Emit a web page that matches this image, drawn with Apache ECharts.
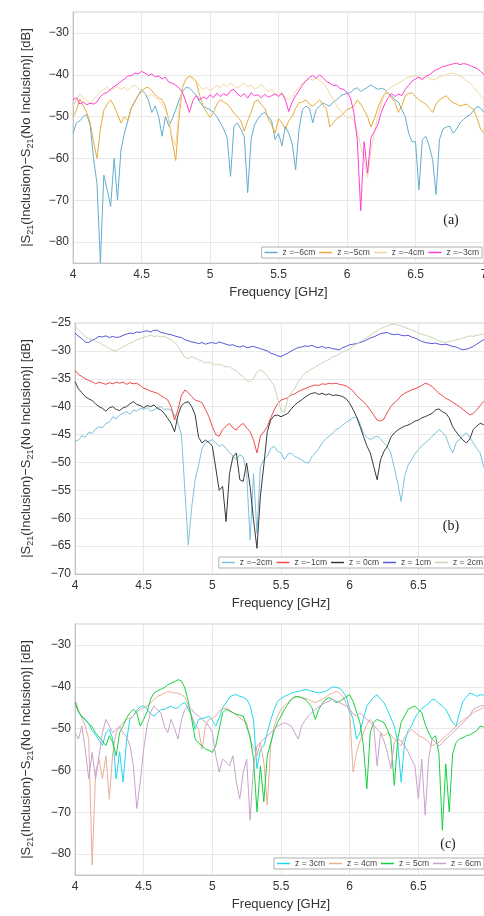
<!DOCTYPE html>
<html><head><meta charset="utf-8">
<script src="https://cdn.jsdelivr.net/npm/echarts@6/dist/echarts.min.js"></script>
<style>html,body{margin:0;padding:0;background:#fff}#c{width:484px;height:916px}</style>
</head><body><div id="c"></div>
<script>
// ---------- data ----------
const freqGHz = [4,4.025,4.05,4.075,4.1,4.125,4.15,4.175,4.2,4.225,4.25,4.275,4.3,4.325,4.35,4.375,4.4,4.425,4.45,4.475,
4.5,4.525,4.55,4.575,4.6,4.625,4.65,4.675,4.7,4.725,4.75,4.775,4.8,4.825,4.85,4.875,4.9,4.925,4.95,4.975,
5,5.025,5.05,5.075,5.1,5.125,5.15,5.175,5.2,5.225,5.25,5.275,5.3,5.325,5.35,5.375,5.4,5.425,5.45,5.475,
5.5,5.525,5.55,5.575,5.6,5.625,5.65,5.675,5.7,5.725,5.75,5.775,5.8,5.825,5.85,5.875,5.9,5.925,5.95,5.975,
6,6.025,6.05,6.075,6.1,6.125,6.15,6.175,6.2,6.225,6.25,6.275,6.3,6.325,6.35,6.375,6.4,6.425,6.45,6.475,
6.5,6.525,6.55,6.575,6.6,6.625,6.65,6.675,6.7,6.725,6.75,6.775,6.8,6.825,6.85,6.875,6.9,6.925,6.95,6.975,7];

const xTicks = [4, 4.5, 5, 5.5, 6, 6.5, 7];
const yTicksA = [-80, -70, -60, -50, -40, -30];
const yTicksB = [-70, -65, -60, -55, -50, -45, -40, -35, -30, -25];
const yTicksC = [-80, -70, -60, -50, -40, -30];

// panel (a)
const namesA = ['z =\u22126cm', 'z =\u22125cm', 'z =\u22124cm', 'z =\u22123cm'];
const zM6 = [-54.0,-51.5,-51.0,-50.0,-49.5,-52.0,-60.0,-66.0,-85.0,-64.0,
 -67.5,-71.5,-60.0,-70.0,-58.0,-54.0,-51.0,-48.0,-46.5,-45.0,
 -43.5,-44.5,-46.0,-49.0,-47.5,-50.0,-54.7,-50.0,-52.3,-50.5,
 -48.3,-46.0,-44.0,-43.0,-43.2,-44.0,-45.0,-46.5,-47.5,-48.0,
 -48.3,-49.0,-50.0,-51.5,-53.0,-55.0,-64.3,-52.3,-51.5,-53.0,
 -54.7,-68.2,-55.5,-52.0,-50.5,-49.5,-49.0,-50.0,-51.0,-55.5,
 -54.0,-57.0,-52.3,-54.0,-56.5,-62.7,-53.0,-48.3,-47.5,-48.0,
 -51.5,-48.3,-47.5,-46.7,-47.2,-47.5,-46.5,-46.0,-45.2,-44.7,
 -44.5,-44.3,-43.5,-43.1,-44.0,-43.5,-43.0,-42.4,-43.0,-43.5,
 -43.2,-43.5,-44.5,-45.0,-46.0,-46.5,-48.3,-50.0,-54.0,-56.0,
 -56.0,-67.5,-55.5,-54.7,-57.0,-60.3,-68.6,-55.5,-53.0,-52.5,
 -52.3,-54.0,-53.0,-51.5,-50.7,-50.0,-49.5,-48.5,-47.5,-48.0,
 -49.0];
const zM5 = [-50.0,-48.5,-45.8,-47.5,-49.0,-51.5,-56.0,-60.0,-53.0,-48.5,
 -47.0,-46.0,-47.5,-49.5,-51.5,-50.0,-51.0,-48.0,-46.5,-45.0,
 -44.0,-43.2,-43.0,-43.8,-44.8,-45.5,-46.0,-47.5,-51.0,-56.0,
 -60.5,-50.0,-43.0,-41.0,-40.4,-40.8,-41.8,-45.0,-47.5,-49.0,
 -50.2,-49.0,-47.0,-46.0,-46.5,-47.0,-48.0,-49.2,-50.0,-51.0,
 -53.5,-51.0,-49.0,-46.5,-46.0,-47.2,-48.0,-50.5,-52.0,-54.0,
 -50.5,-51.5,-53.0,-51.0,-50.0,-48.0,-46.7,-46.5,-46.0,-47.0,
 -47.5,-46.8,-46.0,-47.2,-48.3,-52.5,-51.5,-50.5,-50.0,-49.2,
 -48.3,-48.0,-47.5,-46.0,-47.0,-48.5,-50.0,-52.5,-50.5,-48.0,
 -46.0,-44.5,-44.3,-45.5,-46.5,-49.0,-47.5,-45.0,-44.5,-44.3,
 -45.2,-46.0,-46.5,-47.0,-48.0,-49.0,-47.0,-46.0,-45.5,-45.0,
 -46.0,-46.7,-47.0,-47.5,-47.2,-47.0,-47.8,-48.3,-50.5,-53.0,
 -54.0];
const zM4 = [-47.5,-46.0,-44.5,-45.5,-46.0,-47.0,-46.0,-45.0,-44.0,-43.5,
 -43.0,-43.8,-43.2,-42.8,-43.5,-43.0,-43.8,-43.0,-42.5,-43.2,
 -44.0,-44.5,-45.2,-44.6,-45.5,-46.0,-47.0,-48.5,-51.0,-55.0,
 -57.0,-48.0,-42.5,-40.8,-40.2,-40.6,-41.5,-42.8,-43.5,-43.0,
 -43.8,-43.2,-42.5,-43.0,-42.2,-42.8,-42.0,-42.6,-43.2,-42.5,
 -42.0,-43.0,-42.4,-43.5,-43.0,-42.3,-43.2,-44.0,-43.5,-44.5,
 -45.0,-44.2,-45.5,-46.0,-45.2,-44.0,-43.0,-42.0,-41.5,-41.0,
 -41.3,-40.8,-41.4,-42.0,-43.0,-44.5,-46.0,-47.5,-48.5,-49.5,
 -50.5,-50.0,-51.0,-53.5,-57.0,-60.0,-64.5,-58.0,-54.0,-50.0,
 -47.0,-44.5,-43.5,-43.0,-42.5,-42.0,-41.6,-41.0,-40.6,-40.5,
 -40.2,-40.6,-40.8,-40.4,-40.8,-41.2,-41.0,-40.5,-40.2,-40.0,
 -39.8,-39.6,-40.0,-40.3,-40.8,-41.5,-42.0,-43.0,-44.0,-45.0,
 -46.0];
const zM3 = [-46.0,-45.5,-47.0,-46.5,-47.2,-46.8,-47.0,-46.5,-45.2,-44.5,
 -44.2,-43.5,-42.8,-42.3,-41.6,-41.0,-40.3,-40.2,-39.6,-39.8,
 -39.2,-39.6,-40.2,-39.8,-40.5,-40.3,-41.0,-40.6,-41.8,-42.0,
 -42.5,-43.2,-44.3,-46.5,-49.0,-46.2,-45.0,-46.0,-45.3,-45.8,
 -44.8,-45.5,-44.4,-45.2,-44.5,-45.0,-43.8,-43.5,-44.6,-45.2,
 -44.5,-45.6,-44.3,-45.0,-44.8,-45.5,-44.7,-45.4,-45.0,-44.6,
 -45.2,-44.5,-46.0,-48.8,-46.5,-45.0,-43.8,-42.5,-41.5,-40.6,
 -40.2,-40.8,-40.0,-40.7,-41.6,-42.0,-42.6,-42.5,-43.3,-43.5,
 -44.2,-45.5,-49.0,-55.5,-72.5,-56.0,-63.5,-55.0,-53.5,-52.0,
 -49.0,-47.0,-45.5,-44.5,-45.2,-44.6,-45.0,-43.5,-42.5,-41.5,
 -41.0,-40.6,-41.2,-40.4,-40.0,-39.4,-38.8,-38.5,-38.0,-37.9,
 -37.6,-37.4,-37.2,-37.6,-37.3,-37.5,-37.8,-38.2,-38.5,-39.2,
 -40.0];

// panel (b)
const namesB = ['z =\u22122cm', 'z =\u22121cm', 'z = 0cm', 'z = 1cm', 'z = 2cm'];
const zM2 = [-46.2,-46.0,-45.2,-45.5,-44.6,-44.8,-44.0,-43.6,-43.8,-43.0,
 -42.8,-41.8,-42.2,-41.5,-41.2,-40.9,-41.4,-40.6,-40.8,-40.3,
 -40.5,-40.2,-40.8,-40.6,-40.2,-40.0,-40.5,-40.4,-40.6,-41.5,
 -43.0,-45.0,-55.0,-64.8,-58.0,-53.0,-50.5,-47.5,-46.5,-46.2,
 -45.9,-46.5,-47.1,-46.8,-47.5,-48.3,-48.8,-49.5,-48.6,-49.0,
 -52.0,-63.9,-52.0,-62.7,-50.7,-49.5,-48.9,-47.5,-47.1,-48.0,
 -48.3,-49.5,-48.5,-48.3,-48.9,-49.2,-49.5,-50.0,-50.1,-49.0,
 -48.3,-47.5,-46.5,-45.8,-45.3,-44.8,-44.1,-43.8,-43.3,-42.8,
 -42.4,-42.0,-41.8,-43.0,-44.7,-45.5,-45.9,-45.5,-45.3,-45.8,
 -46.5,-47.2,-48.3,-51.0,-53.7,-57.0,-52.5,-50.5,-49.5,-48.5,
 -47.7,-47.0,-46.5,-46.0,-45.3,-44.8,-44.1,-44.6,-45.3,-47.0,
 -48.3,-46.5,-45.9,-45.2,-44.7,-45.5,-46.5,-47.5,-48.3,-50.7,
 -52.5];
const zM1 = [-33.5,-34.2,-34.6,-35.0,-35.3,-35.5,-35.9,-35.6,-35.8,-36.0,
 -35.7,-35.9,-35.6,-35.8,-35.6,-36.0,-35.7,-35.9,-35.8,-36.2,
 -36.7,-36.9,-37.2,-37.4,-37.6,-38.0,-38.4,-38.8,-40.0,-42.4,
 -40.5,-38.0,-37.0,-37.5,-38.2,-38.8,-39.0,-39.3,-40.5,-41.8,
 -43.6,-45.0,-45.3,-44.1,-43.5,-43.0,-43.8,-44.2,-43.4,-43.0,
 -43.8,-44.5,-46.0,-48.3,-45.3,-44.5,-43.6,-42.0,-40.6,-39.5,
 -38.8,-38.6,-38.4,-37.9,-37.7,-37.3,-37.0,-36.8,-36.5,-36.3,
 -36.1,-36.2,-35.9,-36.0,-35.8,-35.9,-35.8,-36.0,-36.1,-36.3,
 -36.7,-37.2,-38.0,-38.6,-39.1,-39.8,-40.6,-41.5,-42.4,-42.6,
 -42.2,-41.0,-40.0,-39.3,-38.8,-38.0,-37.6,-37.3,-37.0,-36.8,
 -36.5,-36.2,-35.8,-36.0,-36.4,-37.0,-37.6,-38.0,-38.5,-38.8,
 -39.2,-39.6,-40.0,-40.5,-41.0,-41.5,-41.2,-40.6,-39.8,-39.1,
 -38.2];
const z0 = [-35.5,-36.8,-37.5,-38.2,-38.6,-38.9,-39.5,-40.0,-40.3,-40.8,
 -40.2,-40.0,-40.5,-40.7,-40.2,-40.0,-39.5,-39.1,-39.6,-39.8,
 -40.2,-39.8,-40.0,-39.7,-40.3,-40.6,-41.2,-42.1,-43.0,-44.5,
 -41.5,-39.8,-39.3,-39.1,-40.0,-41.5,-45.5,-46.5,-46.0,-46.4,
 -47.1,-51.0,-55.0,-54.3,-60.6,-52.0,-49.0,-48.3,-53.1,-53.4,
 -50.1,-54.3,-60.3,-65.4,-56.0,-50.5,-44.5,-42.4,-41.6,-41.5,
 -41.8,-41.5,-41.2,-40.4,-39.7,-39.2,-38.8,-38.3,-37.9,-37.6,
 -37.5,-37.8,-37.6,-37.9,-37.7,-38.0,-37.9,-38.0,-38.2,-38.6,
 -39.4,-40.5,-41.8,-43.5,-45.3,-47.0,-48.3,-50.7,-53.1,-49.5,
 -48.0,-47.1,-45.5,-44.7,-44.2,-43.8,-43.5,-43.3,-43.0,-42.6,
 -42.4,-42.0,-41.8,-41.5,-41.2,-40.6,-40.4,-40.9,-41.2,-42.0,
 -43.6,-44.5,-45.3,-46.0,-46.5,-45.8,-44.1,-43.5,-43.0,-43.2,
 -43.3];
const zP1 = [-26.8,-27.4,-27.8,-28.4,-28.5,-28.1,-27.8,-27.4,-27.5,-27.3,
 -27.6,-27.4,-27.6,-27.5,-27.2,-27.0,-26.8,-26.9,-26.6,-26.7,
 -26.5,-26.4,-26.6,-26.3,-26.3,-26.7,-26.8,-27.0,-27.1,-27.3,
 -27.5,-27.6,-28.0,-28.2,-28.4,-28.5,-28.7,-28.5,-28.8,-28.6,
 -28.5,-28.7,-28.4,-28.6,-28.8,-29.0,-28.9,-29.2,-29.3,-29.1,
 -29.4,-29.3,-29.2,-29.4,-29.6,-29.8,-30.0,-30.4,-30.6,-30.9,
 -31.0,-30.7,-30.4,-30.0,-29.7,-29.4,-29.3,-29.1,-29.2,-29.0,
 -29.3,-29.4,-29.2,-29.5,-29.4,-29.6,-29.7,-29.8,-29.4,-29.2,
 -28.9,-28.8,-28.7,-28.5,-28.3,-28.0,-27.7,-27.5,-27.2,-26.9,
 -26.8,-26.7,-27.0,-27.1,-27.0,-27.2,-27.3,-27.2,-27.5,-27.7,
 -28.0,-28.3,-28.5,-28.6,-28.7,-28.6,-28.8,-28.9,-28.8,-29.0,
 -29.2,-29.3,-29.6,-29.8,-29.7,-29.5,-29.2,-28.8,-28.4,-28.0,
 -27.6];
const zP2 = [-25.6,-26.2,-26.8,-27.5,-27.8,-28.0,-28.3,-28.5,-28.9,-29.2,
 -29.6,-29.9,-30.0,-29.6,-29.3,-29.0,-28.6,-28.4,-28.0,-27.8,
 -27.6,-27.4,-27.2,-27.4,-27.3,-27.5,-27.4,-27.7,-28.0,-28.5,
 -29.2,-30.2,-31.2,-31.4,-31.0,-31.3,-31.6,-31.8,-32.2,-32.0,
 -32.3,-32.5,-32.4,-32.6,-32.9,-32.8,-33.3,-33.6,-34.2,-34.6,
 -35.3,-35.5,-34.9,-33.8,-33.4,-33.8,-34.5,-35.4,-36.2,-38.5,
 -40.6,-41.0,-38.5,-37.5,-36.8,-35.5,-34.7,-34.0,-33.6,-33.2,
 -32.9,-32.5,-32.2,-31.8,-31.5,-31.1,-30.9,-30.5,-30.2,-29.9,
 -29.6,-29.2,-28.8,-28.4,-28.0,-27.6,-27.2,-26.8,-26.4,-26.0,
 -25.8,-25.5,-25.3,-25.2,-25.4,-25.5,-25.8,-26.0,-26.3,-26.5,
 -26.8,-27.0,-27.2,-27.4,-27.6,-27.9,-28.2,-28.4,-28.5,-28.3,
 -28.2,-28.0,-27.9,-27.7,-27.5,-27.3,-27.4,-27.2,-27.1,-27.0,
 -27.0];

// panel (c)
const namesC = ['z = 3cm', 'z = 4cm', 'z = 5cm', 'z = 6cm'];
const zP3 = [-43.8,-46.0,-47.0,-48.0,-48.8,-50.5,-51.5,-52.8,-54.0,-51.0,
 -50.2,-52.5,-62.0,-55.5,-62.8,-53.0,-47.8,-47.0,-45.6,-44.8,
 -44.6,-45.4,-46.5,-47.0,-46.2,-45.5,-45.4,-45.0,-44.6,-45.2,
 -45.0,-44.2,-43.8,-45.4,-47.0,-50.2,-47.8,-47.6,-47.4,-47.0,
 -48.0,-49.4,-47.5,-45.0,-43.8,-42.5,-42.0,-41.9,-42.3,-42.5,
 -43.0,-44.5,-48.0,-59.6,-55.0,-54.1,-51.0,-48.0,-45.4,-43.5,
 -42.8,-42.3,-42.0,-41.5,-41.3,-41.1,-40.9,-40.7,-40.8,-41.1,
 -41.3,-41.5,-41.3,-41.1,-40.6,-40.0,-40.2,-40.3,-41.2,-42.3,
 -45.4,-47.8,-52.5,-51.0,-47.5,-44.6,-43.5,-42.5,-41.9,-43.0,
 -43.8,-45.5,-47.5,-49.4,-53.3,-62.8,-53.3,-50.5,-49.4,-47.5,
 -46.2,-45.2,-44.6,-44.0,-43.0,-43.2,-44.0,-44.6,-45.4,-47.0,
 -48.6,-49.4,-46.2,-43.5,-42.5,-41.5,-41.8,-42.3,-41.9,-42.0,
 -41.9];
const zP4 = [-43.0,-45.5,-47.5,-49.4,-52.5,-82.6,-60.4,-57.3,-62.0,-56.5,
 -66.9,-55.7,-51.0,-49.5,-48.6,-47.8,-47.5,-47.0,-46.0,-45.4,
 -45.0,-44.6,-44.0,-43.0,-42.3,-42.0,-41.5,-41.1,-41.3,-41.5,
 -41.5,-41.9,-42.5,-44.5,-47.0,-49.0,-50.2,-54.9,-49.4,-47.8,
 -47.5,-47.0,-45.8,-45.4,-45.0,-45.5,-46.2,-46.8,-47.4,-48.0,
 -48.6,-52.5,-54.5,-56.5,-53.3,-58.1,-68.3,-54.1,-49.4,-47.0,
 -45.4,-44.5,-43.8,-43.0,-42.3,-42.5,-42.6,-42.8,-43.0,-43.5,
 -43.8,-43.4,-43.0,-42.5,-41.9,-41.5,-41.1,-41.5,-42.3,-44.0,
 -46.2,-60.4,-55.7,-53.0,-51.0,-49.0,-47.8,-49.0,-50.2,-51.0,
 -51.7,-51.0,-51.5,-52.5,-53.3,-54.1,-52.0,-51.0,-50.2,-50.8,
 -51.7,-52.0,-52.5,-53.2,-54.1,-53.6,-53.3,-52.5,-51.7,-51.0,
 -50.2,-49.5,-48.6,-48.0,-47.4,-47.0,-46.2,-45.8,-45.4,-45.0,
 -44.6];
const zP5 = [-43.8,-46.0,-47.2,-47.8,-48.8,-49.6,-51.0,-52.0,-53.0,-54.1,
 -51.7,-53.3,-56.5,-51.0,-49.4,-47.5,-46.2,-45.4,-46.2,-49.4,
 -47.8,-46.0,-43.0,-41.5,-41.0,-40.6,-40.2,-39.6,-39.1,-38.8,
 -38.3,-38.6,-40.3,-43.5,-47.8,-52.5,-53.5,-54.1,-54.9,-55.2,
 -55.7,-54.1,-50.2,-46.2,-45.4,-45.8,-46.2,-46.6,-46.8,-47.0,
 -49.5,-52.0,-57.3,-69.9,-58.9,-67.5,-56.5,-53.3,-50.5,-48.6,
 -47.0,-45.4,-44.2,-43.0,-42.5,-42.3,-42.6,-43.0,-43.8,-45.0,
 -47.8,-45.4,-44.0,-43.0,-42.6,-43.0,-43.8,-43.5,-43.0,-42.4,
 -41.9,-43.5,-46.0,-48.6,-54.1,-64.4,-51.0,-48.5,-47.8,-48.2,
 -48.6,-50.2,-52.5,-63.6,-52.5,-48.5,-47.0,-45.4,-45.0,-44.6,
 -45.5,-46.2,-49.0,-51.0,-52.5,-51.7,-56.0,-74.3,-58.5,-69.9,
 -56.0,-53.3,-52.5,-52.2,-51.7,-51.5,-51.0,-50.5,-49.4,-49.6,
 -49.8];
const zP6 = [-51.0,-52.5,-49.4,-55.0,-62.0,-55.7,-62.0,-56.5,-51.0,-47.8,
 -49.4,-51.0,-50.2,-49.4,-51.0,-52.0,-54.0,-58.9,-69.1,-62.8,
 -54.9,-49.4,-46.2,-44.6,-45.5,-46.2,-49.4,-51.0,-47.8,-50.0,
 -52.5,-48.0,-45.4,-44.6,-45.4,-46.5,-47.0,-47.8,-48.5,-49.4,
 -51.0,-56.5,-60.4,-57.3,-58.0,-58.9,-56.5,-62.8,-66.8,-60.4,
 -57.3,-71.9,-58.9,-54.1,-53.3,-52.5,-51.8,-51.0,-50.2,-49.4,
 -49.0,-48.6,-49.0,-49.4,-51.0,-52.5,-49.4,-48.0,-47.0,-46.2,
 -45.4,-44.8,-44.2,-43.8,-43.4,-43.0,-43.4,-43.8,-44.2,-44.6,
 -45.4,-46.5,-47.0,-46.2,-47.0,-47.8,-48.5,-49.4,-58.9,-51.0,
 -53.0,-55.7,-59.6,-53.3,-52.5,-53.0,-54.1,-55.5,-57.3,-58.9,
 -66.8,-57.3,-70.7,-57.3,-52.5,-53.3,-54.1,-53.5,-52.5,-51.8,
 -51.0,-50.2,-49.4,-48.6,-47.8,-46.8,-45.4,-45.0,-44.6,-44.5,
 -44.5];

// ---------- chart ----------
const colorsA = ['#62aecf', '#e8a93c', '#f0d8a2', '#ff40d0'];
const colorsB = ['#7cc2dc', '#f04a4a', '#3a3a3a', '#5656d6', '#c8d6b4'];
const colorsC = ['#20d8ec', '#eaae98', '#18d040', '#c9a2cc'];

const FONT = '"Liberation Sans", Arial, sans-serif';
const minus = v => String(v).replace('-', '\u2212');
const yName = '{n||S}{s|21}{n|(Inclusion)\u2212S}{s|21}{n|(No Inclusion)| [dB]}';

function xAxis(gi) {
  return {
    type: 'value', gridIndex: gi, min: 4, max: 7, interval: 0.5,
    name: 'Frequency [GHz]', nameLocation: 'middle', nameGap: 23,
    nameTextStyle: { fontSize: 13, color: '#333', fontFamily: FONT },
    axisLine: { show: true, lineStyle: { color: '#c4c4c4' } },
    axisTick: { show: false },
    axisLabel: { fontSize: 12, color: '#333', fontFamily: FONT, margin: 6, formatter: v => String(v) },
    splitLine: { show: true, lineStyle: { color: '#e8e8e8', width: 1 } }
  };
}
function yAxis(gi, min, max, ticks, gap) {
  return {
    type: 'value', gridIndex: gi, min: min, max: max,
    axisLabel: { customValues: ticks, fontSize: 12, color: '#333', fontFamily: FONT, margin: 4, formatter: minus },
    axisTick: { show: false, customValues: ticks },
    axisLine: { show: true, lineStyle: { color: '#c4c4c4' } },
    splitLine: { show: true, lineStyle: { color: '#e8e8e8', width: 1 } },
    name: yName, nameLocation: 'middle', nameRotate: 90, nameGap: gap,
    nameTextStyle: {
      color: '#333', fontFamily: FONT, fontSize: 13,
      rich: {
        n: { fontSize: 13, color: '#333', fontFamily: FONT, lineHeight: 18 },
        s: { fontSize: 9, color: '#333', fontFamily: FONT, lineHeight: 9, verticalAlign: 'bottom' }
      }
    }
  };
}
function mk(name, vals, color, gi) {
  return {
    type: 'line', name: name, xAxisIndex: gi, yAxisIndex: gi,
    data: freqGHz.map((f, i) => [f, vals[i]]),
    showSymbol: false, symbol: 'none', lineStyle: { width: 1, color: color },
    itemStyle: { color: color }, emphasis: { disabled: true }, animation: false
  };
}
function legend(names, top, right) {
  return {
    data: names, top: top, right: right, orient: 'horizontal',
    icon: 'rect', itemWidth: 13, itemHeight: 1.5, itemGap: 4,
    textStyle: { fontSize: 8.5, color: '#444', fontFamily: FONT },
    borderColor: '#b0b0b0', borderWidth: 1, borderRadius: 0,
    padding: [1, 3], backgroundColor: '#fff', selectedMode: false
  };
}

const series = [];
[zM6, zM5, zM4, zM3].forEach((d, k) => series.push(mk(namesA[k], d, colorsA[k], 0)));
[zM2, zM1, z0, zP1, zP2].forEach((d, k) => series.push(mk(namesB[k], d, colorsB[k], 1)));
[zP3, zP4, zP5, zP6].forEach((d, k) => series.push(mk(namesC[k], d, colorsC[k], 2)));

const gridBase = { show: true, borderColor: '#d0d0d0', borderWidth: 1, containLabel: false, outerBoundsMode: 'none' };
const chart = echarts.init(document.getElementById('c'), null, { renderer: 'canvas' });
chart.setOption({
  animation: false,
  backgroundColor: '#fff',
  grid: [
    Object.assign({ left: 73, top: 12, width: 411, height: 251 }, gridBase),
    Object.assign({ left: 75, top: 323, width: 412, height: 251 }, gridBase),
    Object.assign({ left: 75, top: 624, width: 412, height: 251 }, gridBase)
  ],
  xAxis: [xAxis(0), xAxis(1), xAxis(2)],
  yAxis: [yAxis(0, -85, -25, yTicksA, 38), yAxis(1, -70, -25, yTicksB, 40), yAxis(2, -85, -25, yTicksC, 40)],
  legend: [legend(namesA, 247, 2), legend(namesB, 557, -2), legend(namesC, 858, 0)],
  graphic: [
    { type: 'text', x: 451, y: 220, style: { text: '(a)', fontSize: 14, fontFamily: '"Liberation Serif", serif', fill: '#222', align: 'center', verticalAlign: 'middle' } },
    { type: 'text', x: 451, y: 526, style: { text: '(b)', fontSize: 14, fontFamily: '"Liberation Serif", serif', fill: '#222', align: 'center', verticalAlign: 'middle' } },
    { type: 'text', x: 448, y: 844, style: { text: '(c)', fontSize: 14, fontFamily: '"Liberation Serif", serif', fill: '#222', align: 'center', verticalAlign: 'middle' } }
  ],
  series: series
});
</script>
</body></html>
